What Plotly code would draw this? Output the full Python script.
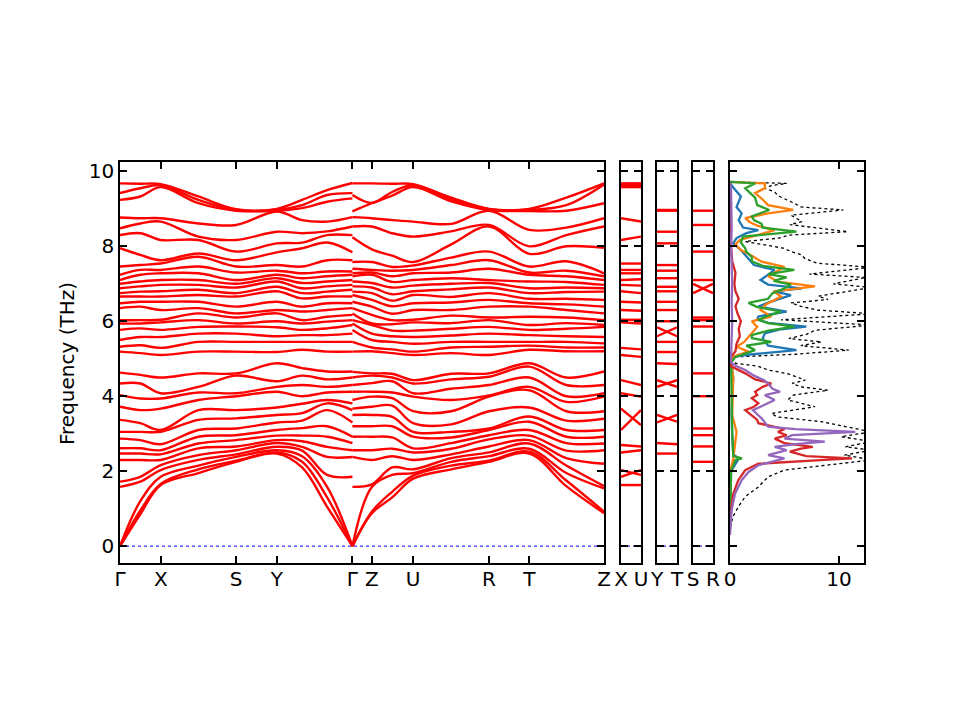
import plotly.graph_objects as go

# ---- k-path (distances in the band panel's own units) ----
K_LEFT = [0, 20.3, 40.7, 78.3, 116.0, 156.7, 182.0, 207.0, 232.3]
K_RIGHT = [232.3, 251.7, 272.0, 293.0, 331.0, 368.7, 409.0, 446.0, 483.7]
K_TICKS = [0, 40.7, 116.0, 156.7, 232.3, 251.7, 293.0, 368.7, 409.0, 483.7]
K_LABELS = ["Γ", "X", "S", "Y", "Γ", "Z", "U", "R", "T", "Z"]

# ---- frequencies (THz) at each k-point of the main panel ----
G1 = [0, 0, 0, 1.58, 1.72, 2.30, 2.47, 2.61, 2.87, 3.05, 3.37, 3.72, 4.03, 4.34, 4.63,
      5.19, 5.32, 5.50, 5.77, 5.94, 6.03, 6.35, 6.48, 6.66, 6.75, 6.88, 7.00, 7.10, 7.24,
      7.46, 7.95, 8.30, 8.48, 8.77, 9.24, 9.42, 9.68]
GX = [0.85, 0.95, 1.20, 1.72, 1.85, 2.30, 2.47, 2.61, 2.83, 3.05, 3.28, 3.63, 3.94, 4.34, 4.57,
      5.15, 5.36, 5.58, 5.81, 5.94, 6.03, 6.39, 6.52, 6.66, 6.79, 6.93, 7.06, 7.24, 7.37,
      7.50, 7.77, 8.35, 8.61, 8.75, 9.33, 9.55, 9.67]
X_PT = [1.63, 1.66, 1.85, 2.03, 2.16, 2.30, 2.45, 2.56, 2.72, 3.05, 3.10, 3.67, 3.94, 4.08, 4.50,
        5.10, 5.29, 5.58, 5.77, 5.97, 6.04, 6.30, 6.52, 6.66, 6.80, 6.97, 7.10, 7.28, 7.37,
        7.54, 7.63, 8.17, 8.66, 8.75, 9.58, 9.63, 9.66]
XS = [1.95, 2.05, 2.15, 2.30, 2.43, 2.61, 2.74, 2.92, 3.10, 3.37, 3.63, 3.90, 4.10, 4.25, 4.61,
      5.19, 5.45, 5.67, 5.85, 6.03, 6.21, 6.35, 6.52, 6.70, 6.84, 6.97, 7.10, 7.28, 7.46,
      7.72, 7.81, 8.17, 8.26, 8.61, 9.15, 9.24, 9.33]
S_PT = [2.25, 2.28, 2.38, 2.45, 2.56, 2.66, 2.83, 2.96, 3.14, 3.41, 3.63, 4.00, 4.08, 4.55, 4.61,
        5.19, 5.45, 5.67, 5.86, 5.94, 6.10, 6.21, 6.39, 6.66, 6.75, 6.90, 7.00, 7.10, 7.30,
        7.46, 7.63, 7.86, 8.17, 8.57, 8.95, 8.97, 8.99]
Y_PT = [2.47, 2.50, 2.56, 2.65, 2.75, 2.83, 2.95, 3.10, 3.30, 3.50, 3.70, 4.12, 4.25, 4.40, 4.88,
        5.18, 5.45, 5.60, 5.84, 6.00, 6.21, 6.30, 6.52, 6.80, 6.92, 7.06, 7.15, 7.24, 7.35,
        7.50, 7.84, 8.08, 8.39, 8.93, 8.95, 8.97, 9.00]
YG1 = [2.10, 2.25, 2.40, 2.55, 2.65, 2.80, 2.95, 3.15, 3.35, 3.55, 3.80, 4.00, 4.30, 4.55, 4.75,
       5.24, 5.45, 5.63, 5.77, 5.94, 6.03, 6.26, 6.39, 6.61, 6.75, 6.88, 7.02, 7.15, 7.28,
       7.46, 7.95, 8.10, 8.35, 8.70, 9.02, 9.10, 9.24]
YG2 = [1.05, 1.30, 1.58, 1.90, 2.38, 2.65, 2.92, 3.20, 3.63, 3.81, 3.90, 4.10, 4.25, 4.45, 4.66,
       5.19, 5.45, 5.63, 5.81, 5.99, 6.12, 6.30, 6.48, 6.66, 6.79, 6.93, 7.06, 7.20, 7.33,
       7.63, 8.10, 8.30, 8.40, 8.66, 9.19, 9.37, 9.50]
G2 = [0, 0, 0, 1.85, 2.38, 2.56, 2.75, 2.92, 3.30, 3.63, 3.81, 4.12, 4.30, 4.50, 4.66,
      5.19, 5.45, 5.67, 5.90, 6.03, 6.17, 6.35, 6.48, 6.66, 6.84, 6.97, 7.10, 7.24, 7.33,
      7.63, 7.84, 8.30, 8.53, 8.78, 9.28, 9.42, 9.69]

G3 = [0, 0, 0, 1.58, 2.38, 2.56, 2.92, 3.20, 3.50, 3.67, 3.90, 4.12, 4.30, 4.50, 4.65,
      5.19, 5.45, 5.77, 5.94, 6.03, 6.21, 6.35, 6.52, 6.70, 6.79, 6.93, 7.06, 7.20, 7.28,
      7.40, 7.58, 8.24, 8.53, 8.78, 8.93, 9.37, 9.68]
Z1 = [0.88, 0.92, 1.58, 1.65, 2.30, 2.56, 2.92, 3.20, 3.50, 3.72, 3.99, 4.12, 4.35, 4.55, 4.61,
      5.20, 5.30, 5.50, 5.67, 5.90, 5.94, 6.17, 6.39, 6.57, 6.75, 6.90, 7.02, 7.24, 7.30,
      7.37, 7.58, 7.92, 8.53, 8.75, 9.15, 9.16, 9.68]
ZU = [1.30, 1.45, 1.90, 2.10, 2.40, 2.60, 2.90, 3.20, 3.45, 3.75, 3.95, 4.10, 4.40, 4.50, 4.60,
      5.15, 5.25, 5.45, 5.60, 5.75, 5.92, 6.03, 6.20, 6.40, 6.55, 6.72, 6.90, 7.05, 7.20,
      7.35, 7.45, 7.75, 8.35, 8.70, 9.35, 9.45, 9.67]
U_PT = [1.80, 1.88, 1.95, 2.05, 2.30, 2.50, 2.61, 2.92, 3.05, 3.28, 3.60, 3.99, 4.08, 4.34, 4.43,
        5.10, 5.19, 5.40, 5.58, 5.75, 5.97, 6.04, 6.30, 6.48, 6.70, 6.80, 6.95, 7.10, 7.28,
        7.37, 7.49, 7.58, 8.26, 8.66, 9.58, 9.63, 9.66]
UR = [2.05, 2.15, 2.25, 2.35, 2.45, 2.60, 2.75, 2.90, 3.05, 3.25, 3.60, 3.90, 4.20, 4.45, 4.60,
      5.15, 5.30, 5.45, 5.62, 5.80, 5.95, 6.15, 6.30, 6.50, 6.65, 6.85, 7.00, 7.15, 7.30,
      7.50, 7.70, 8.05, 8.40, 8.60, 9.20, 9.25, 9.30]
R_PT = [2.25, 2.28, 2.40, 2.50, 2.66, 2.85, 2.96, 3.10, 3.14, 3.60, 3.99, 4.02, 4.30, 4.52, 4.61,
        5.10, 5.32, 5.45, 5.67, 5.85, 6.03, 6.10, 6.39, 6.57, 6.75, 6.90, 7.02, 7.10, 7.40,
        7.63, 7.86, 8.53, 8.57, 8.95, 8.97, 8.99, 9.00]
T_PT = [2.47, 2.52, 2.60, 2.74, 2.83, 2.95, 3.10, 3.32, 3.46, 3.70, 4.16, 4.25, 4.50, 4.79, 4.88,
        5.24, 5.35, 5.45, 5.63, 5.77, 5.90, 6.12, 6.39, 6.48, 6.60, 6.75, 6.88, 7.06, 7.24,
        7.30, 7.46, 7.80, 8.00, 8.44, 8.94, 8.97, 9.00]
TZ = [1.60, 1.75, 1.95, 2.15, 2.35, 2.55, 2.75, 2.92, 3.10, 3.35, 3.60, 3.85, 4.00, 4.30, 4.50,
      5.20, 5.30, 5.45, 5.60, 5.80, 5.95, 6.10, 6.30, 6.45, 6.60, 6.78, 6.90, 7.05, 7.20,
      7.35, 7.60, 8.00, 8.30, 8.50, 8.95, 9.10, 9.30]
Z2 = [0.88, 0.92, 1.54, 1.60, 2.20, 2.56, 2.74, 2.92, 3.10, 3.40, 3.60, 3.99, 4.08, 4.30, 4.66,
      5.20, 5.30, 5.41, 5.58, 5.85, 5.90, 6.03, 6.21, 6.39, 6.57, 6.79, 6.88, 6.97, 7.10,
      7.20, 7.28, 7.96, 8.53, 8.75, 9.15, 9.65, 9.68]

LEFT_PTS = [G1, GX, X_PT, XS, S_PT, Y_PT, YG1, YG2, G2]
RIGHT_PTS = [G3, Z1, ZU, U_PT, UR, R_PT, T_PT, TZ, Z2]

# ---- narrow panels: band values at the left and right edge, paired line by line ----
XU_L = [1.63, 1.85, 2.03, 2.50, 2.70, 3.10, 3.67, 4.08, 4.43, 5.10, 5.29, 5.97, 6.04, 6.30,
        6.52, 6.80, 6.97, 7.10, 7.28, 7.37, 7.54, 8.17, 8.75, 9.58, 9.64, 9.68]
XU_R = [1.63, 2.03, 1.90, 2.56, 2.66, 3.63, 3.23, 3.99, 4.30, 5.05, 5.25, 5.94, 6.04, 6.28,
        6.50, 6.75, 6.95, 7.12, 7.28, 7.37, 7.54, 8.26, 8.66, 9.58, 9.64, 9.68]
YT_L = [2.47, 2.75, 3.30, 3.50, 4.25, 4.43, 4.88, 5.18, 5.45, 5.60, 5.84, 6.00, 6.30, 6.52,
        6.80, 6.92, 7.15, 7.35, 7.50, 8.08, 8.39, 8.95, 8.97]
YT_R = [2.47, 2.72, 3.50, 3.32, 4.43, 4.25, 4.86, 5.18, 5.45, 5.84, 5.60, 6.00, 6.30, 6.52,
        6.80, 6.92, 7.15, 7.35, 7.50, 8.08, 8.39, 8.95, 8.97]
SR_L = [2.25, 2.66, 2.96, 3.14, 4.00, 4.61, 5.45, 5.86, 6.03, 6.10, 6.75, 7.00, 7.10, 7.86,
        8.57, 8.95]
SR_R = [2.25, 2.66, 2.96, 3.14, 4.00, 4.61, 5.45, 5.86, 6.03, 6.10, 7.00, 6.75, 7.10, 7.86,
        8.57, 8.95]
SMALL_PANELS = [(XU_L, XU_R, "X", "U"), (YT_L, YT_R, "Y", "T"), (SR_L, SR_R, "S", "R")]

# ---- density of states (freq THz, states) ----
TOT_F = [0.5, 0.6, 0.8, 1.05, 1.32, 1.58, 1.85, 2.03, 2.16, 2.3, 2.43, 2.56, 2.65, 2.79, 2.92,
         3.05, 3.19, 3.32, 3.45, 3.54, 3.72, 3.9, 4.03, 4.16, 4.25, 4.34, 4.43, 4.6, 4.7, 4.8,
         4.88, 4.95, 5.02, 5.05, 5.12, 5.23, 5.35, 5.45, 5.54, 5.65, 5.76, 5.9, 6.04, 6.12,
         6.2, 6.3, 6.4, 6.49, 6.58, 6.67, 6.78, 6.9, 7.0, 7.08, 7.17, 7.26, 7.35, 7.44, 7.55,
         7.67, 7.78, 7.85, 7.95, 8.05, 8.13, 8.22, 8.3, 8.39, 8.5, 8.58, 8.66, 8.75, 8.83,
         8.97, 9.05, 9.15, 9.25, 9.35, 9.45, 9.55, 9.62, 9.68, 9.72]
TOT_V = [0.0, 0.09, 0.3, 0.76, 1.4, 2.6, 3.5, 5.0, 9.0, 13, 10.5, 13, 10.6, 13, 10.2,
         13, 10.6, 8.4, 4.3, 3.8, 7.8, 5.3, 5.8, 9.0, 6.5, 5.7, 6.9, 5.3, 3.5, 2.6,
         0.5, 0.1, 0.3, 0.5, 6.0, 10.9, 6.5, 8.4, 5.4, 7.0, 7.8, 13, 4.7, 9.0,
         13, 8.0, 6.5, 5.6, 9.0, 8.1, 10.5, 13, 9.5, 11.0, 12.5, 7.3, 10.5, 13, 8.0,
         6.9, 6.5, 5.7, 4.9, 3.0, 1.4, 4.5, 5.4, 10.8, 7.5, 5.5, 6.6, 6.0, 5.6,
         10.4, 6.5, 5.9, 5.2, 4.4, 4.1, 3.2, 3.8, 5.2, 0.0]

BLUE_F = [0.5, 1.5, 2.0, 2.34, 2.45, 3.0, 3.5, 4.0, 4.5, 4.9, 5.05, 5.1, 5.23, 5.35, 5.54,
          5.68, 5.78, 5.86, 5.96, 6.05, 6.13, 6.26, 6.39, 6.5, 6.7, 6.8, 6.88, 6.98, 7.1,
          7.2, 7.37, 7.5, 7.72, 7.9, 8.08, 8.22, 8.35, 8.43, 8.5, 8.7, 8.88, 9.05, 9.33,
          9.5, 9.6, 9.7]
BLUE_V = [0, 0.05, 0.1, 0.8, 0.3, 0.2, 0.15, 0.2, 0.3, 0.1, 0.3, 1.4, 6.1, 3.5, 3.0,
          3.2, 4.5, 7.0, 3.5, 2.5, 2.6, 5.2, 2.6, 3.5, 5.6, 4.0, 6.6, 3.5, 2.8,
          3.3, 4.1, 2.2, 1.5, 1.0, 0.3, 0.6, 1.5, 2.6, 1.2, 0.8, 1.07, 0.6, 1.0,
          0.5, 0.2, 0.0]

ORANGE_F = [0.5, 2.0, 2.34, 3.05, 3.5, 4.0, 4.5, 4.9, 5.05, 5.19, 5.32, 5.45, 5.68, 5.85,
            6.0, 6.13, 6.3, 6.45, 6.66, 6.8, 6.93, 7.05, 7.2, 7.32, 7.45, 7.59, 7.75, 7.9,
            8.05, 8.17, 8.3, 8.43, 8.55, 8.65, 8.75, 8.88, 8.97, 9.1, 9.25, 9.42, 9.55,
            9.68, 9.72]
ORANGE_V = [0, 0.05, 0.3, 0.6, 0.2, 0.25, 0.3, 0.1, 0.2, 1.7, 0.6, 1.3, 2.0, 2.5,
            2.0, 3.8, 2.8, 3.3, 4.7, 4.0, 7.8, 4.5, 3.5, 4.2, 5.0, 2.9, 2.0, 1.0,
            0.5, 0.9, 2.5, 4.1, 2.5, 1.8, 1.4, 3.5, 5.8, 3.5, 3.0, 2.3, 3.2,
            3.2, 0]

GREEN_F = [0.5, 2.0, 2.3, 2.34, 2.4, 3.0, 4.0, 4.9, 5.05, 5.15, 5.23, 5.35, 5.45, 5.55,
           5.63, 5.75, 5.86, 5.95, 6.04, 6.15, 6.26, 6.38, 6.49, 6.6, 6.75, 6.85, 6.98,
           7.08, 7.17, 7.26, 7.37, 7.48, 7.6, 7.72, 7.85, 7.95, 8.1, 8.26, 8.39, 8.5, 8.6,
           8.7, 8.8, 8.97, 9.1, 9.3, 9.45, 9.55, 9.68, 9.72]
GREEN_V = [0, 0.1, 0.5, 1.1, 0.3, 0.2, 0.15, 0.1, 0.5, 1.4, 2.3, 1.5, 3.8, 2.0,
           2.0, 3.5, 5.9, 3.5, 2.6, 3.5, 4.7, 2.5, 1.7, 3.5, 3.9, 4.8, 5.6,
           4.0, 5.2, 3.5, 5.9, 3.0, 2.0, 2.0, 1.5, 1.4, 1.0, 1.2, 6.1, 3.0, 2.9,
           2.2, 2.0, 3.6, 2.5, 2.3, 1.8, 1.4, 2.3, 0]

RED_F = [0.5, 0.96, 1.4, 1.76, 2.03, 2.2, 2.3, 2.34, 2.4, 2.52, 2.6, 2.65, 2.75, 2.87,
         2.96, 3.05, 3.12, 3.19, 3.28, 3.37, 3.5, 3.63, 3.72, 3.81, 3.95, 4.03, 4.12,
         4.25, 4.34, 4.45, 4.61, 4.72, 4.79, 4.9, 5.05, 5.2, 5.4, 5.6, 5.8, 6.0, 6.2,
         6.4, 6.6, 6.8, 7.0, 7.3, 7.6, 8.0, 8.5, 9.0, 9.7]
RED_V = [0.0, 0.09, 0.3, 0.76, 1.4, 2.6, 8.7, 11.2, 7.0, 5.5, 6.5, 7.6, 5.0, 4.1,
         5.2, 4.4, 5.0, 3.8, 2.6, 2.5, 2.0, 1.4, 2.2, 2.6, 2.0, 2.5, 2.3,
         3.0, 3.8, 2.3, 1.4, 0.6, 0.15, 0.05, 0.1, 0.5, 0.6, 0.9, 0.8, 1.0, 0.7,
         0.5, 0.8, 0.5, 0.4, 0.5, 0.2, 0.1, 0.1, 0.05, 0.0]

PURPLE_F = [0.3, 0.96, 1.4, 1.76, 1.98, 2.16, 2.25, 2.34, 2.43, 2.5, 2.56, 2.65, 2.72, 2.79,
            2.87, 2.96, 3.05, 3.12, 3.19, 3.3, 3.41, 3.52, 3.63, 3.72, 3.81, 3.9, 4.03,
            4.12, 4.2, 4.34, 4.43, 4.55, 4.7, 4.8, 4.88, 4.95, 5.05, 5.5, 6.0, 6.5, 7.0,
            7.5, 8.0, 8.5, 9.0, 9.5, 9.7]
PURPLE_V = [0.0, 0.15, 0.46, 1.07, 1.7, 2.6, 3.8, 5.0, 3.5, 4.3, 5.2, 4.1, 6.0, 8.7,
            5.0, 5.7, 11.5, 6.0, 3.5, 3.2, 2.9, 2.5, 2.1, 2.8, 3.5, 4.1, 3.2,
            4.6, 3.9, 3.5, 3.1, 2.2, 1.4, 0.6, 0.15, 0.05, 0.1, 0.15, 0.2, 0.15, 0.2,
            0.15, 0.1, 0.15, 0.1, 0.1, 0.0]

PDOS = [
    (BLUE_F, BLUE_V, "#1f77b4"),
    (ORANGE_F, ORANGE_V, "#ff7f0e"),
    (GREEN_F, GREEN_V, "#2ca02c"),
    (RED_F, RED_V, "#d62728"),
    (PURPLE_F, PURPLE_V, "#9467bd"),
]

FONT = "DejaVu Sans"
# the page body adds an 8px margin, so the figure is drawn 8px smaller
# and every pixel position below is shifted by that offset
OFF = 8
W, H = 960 - 2 * OFF, 720 - 2 * OFF


def px_x(p):
    return (p - OFF) / W


def px_y(p):
    return 1 - (p - OFF) / H


Y_DOM = [px_y(563), px_y(162)]
Y_RANGE = [-0.45, 10.25]
X_DOMS = [(120, 604), (621, 641), (657, 677), (693, 713), (730, 864)]

fig = go.Figure()

# main band panel
bx, by = [], []
for ks, pts in ((K_LEFT, LEFT_PTS), (K_RIGHT, RIGHT_PTS)):
    cols = [sorted(p) for p in pts]
    for i in range(len(cols[0])):
        bx += ks + [None]
        by += [c[i] for c in cols] + [None]
fig.add_trace(go.Scatter(x=[K_TICKS[0], K_TICKS[-1]], y=[0, 0], mode="lines",
                         line=dict(color="blue", width=1, dash="dot"),
                         xaxis="x", yaxis="y", hoverinfo="skip"))
fig.add_trace(go.Scatter(x=bx, y=by, mode="lines",
                         line=dict(color="red", width=2.4, shape="spline"),
                         xaxis="x", yaxis="y", hoverinfo="skip"))

# narrow panels (X-U, Y-T, S-R)
for n, (a, b, _, _) in enumerate(SMALL_PANELS, start=2):
    sx, sy = [], []
    for fa, fb in zip(a, b):
        sx += [0, 1, None]
        sy += [fa, fb, None]
    fig.add_trace(go.Scatter(x=[0, 1], y=[0, 0], mode="lines",
                             line=dict(color="blue", width=1, dash="dot"),
                             xaxis=f"x{n}", yaxis=f"y{n}", hoverinfo="skip"))
    fig.add_trace(go.Scatter(x=sx, y=sy, mode="lines", line=dict(color="red", width=2.4),
                             xaxis=f"x{n}", yaxis=f"y{n}", hoverinfo="skip"))

# DOS panel
fig.add_trace(go.Scatter(x=TOT_V, y=TOT_F, mode="lines",
                         line=dict(color="black", width=1.3, dash="dot"),
                         xaxis="x5", yaxis="y5", hoverinfo="skip"))
for f, v, c in PDOS:
    fig.add_trace(go.Scatter(x=v, y=f, mode="lines", line=dict(color=c, width=2.3),
                             xaxis="x5", yaxis="y5", hoverinfo="skip"))

axis_style = dict(showline=True, linecolor="black", linewidth=1.6, mirror="ticks",
                  ticks="inside", ticklen=7, tickwidth=1.5, tickcolor="black",
                  showgrid=False, zeroline=False, automargin=False,
                  tickfont=dict(family=FONT, size=20, color="black"))

layout = dict(template="none", width=W, height=H, margin=dict(l=0, r=0, t=0, b=0),
              paper_bgcolor="white", plot_bgcolor="white", showlegend=False,
              font=dict(family=FONT, size=20, color="black"))

x_specs = [
    dict(range=[K_TICKS[0], K_TICKS[-1]], tickmode="array", tickvals=K_TICKS, ticktext=K_LABELS),
]
for a, b, la, lb in SMALL_PANELS:
    x_specs.append(dict(range=[0, 1], tickmode="array", tickvals=[0, 1], ticktext=[la, lb]))
x_specs.append(dict(range=[0, 12.3], tickmode="array", tickvals=[0, 10], ticktext=["0", "10"]))

for n, (spec, (x0, x1)) in enumerate(zip(x_specs, X_DOMS), start=1):
    sfx = "" if n == 1 else str(n)
    layout[f"xaxis{sfx}"] = dict(axis_style, domain=[px_x(x0), px_x(x1)], anchor=f"y{sfx}",
                                 ticklabelstandoff=-3, **spec)
    ydict = dict(axis_style, domain=Y_DOM, anchor=f"x{sfx}", range=Y_RANGE,
                 tickmode="array", tickvals=[0, 2, 4, 6, 8, 10])
    if n > 1:
        ydict["showticklabels"] = False
    layout[f"yaxis{sfx}"] = ydict

fig.update_layout(**layout)
fig.add_annotation(text="Frequency (THz)", x=px_x(67), y=px_y(364), xref="paper", yref="paper",
                   showarrow=False, textangle=-90, xanchor="center", yanchor="middle",
                   font=dict(family=FONT, size=20, color="black"))

fig.write_html("out.html")
